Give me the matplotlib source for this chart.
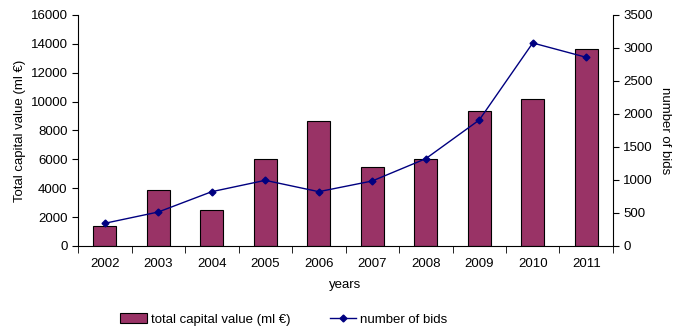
import matplotlib.pyplot as plt
import numpy as np

plt.rcParams['font.family'] = ['Liberation Sans', 'DejaVu Sans']
plt.rcParams['font.size'] = 9.5

years = ["2002", "2003", "2004", "2005", "2006", "2007", "2008", "2009", "2010", "2011"]
capital = [1400, 3850, 2470, 6000, 8630, 5470, 6050, 9370, 10200, 13660]
bids = [344, 515, 823, 995, 823, 985, 1323, 1909, 3076, 2859]

x = np.arange(len(years))

fig = plt.figure(figsize=(6.76, 3.26), dpi=100)
ax = fig.add_axes([0.1154, 0.2454, 0.7914, 0.7086])
ax2 = ax.twinx()

b = ax.bar(x, capital, width=0.43, color='#993366', edgecolor='black', linewidth=0.8,
           label="total capital value (ml €)")
l, = ax2.plot(x, bids, color='#000080', marker='D', markersize=3.5, linewidth=1,
              label="number of bids")

ax.set_xlim(-0.5, len(years) - 0.5)
ax.set_ylim(0, 16000)
ax.set_yticks(range(0, 16001, 2000))
ax2.set_ylim(0, 3500)
ax2.set_yticks(range(0, 3501, 500))

ax.set_xticks(x)
ax.set_xticklabels(years)
ax.set_xticks(np.arange(-0.5, len(years)), minor=True)
ax.tick_params(axis='x', which='major', length=0, pad=9)
ax.tick_params(axis='x', which='minor', length=5, direction='out')
ax.tick_params(axis='y', length=4, direction='out')
ax2.tick_params(axis='y', length=4, direction='out')

for a in (ax, ax2):
    a.spines['top'].set_visible(False)
ax.spines['right'].set_visible(False)
ax2.spines['left'].set_visible(False)
ax2.spines['bottom'].set_visible(False)

ax.set_ylabel("Total capital value (ml €)", labelpad=3)
ax2.set_ylabel("number of bids", rotation=-90, labelpad=13)
ax.set_xlabel("years", labelpad=6)

fig.legend([b, l], ["total capital value (ml €)", "number of bids"], ncol=2,
           loc='lower center', bbox_to_anchor=(0.42, -0.035), frameon=False,
           handlelength=2.0, handletextpad=0.3, columnspacing=3.0, fontsize=9.5)

fig.savefig("out.png", dpi=100)
